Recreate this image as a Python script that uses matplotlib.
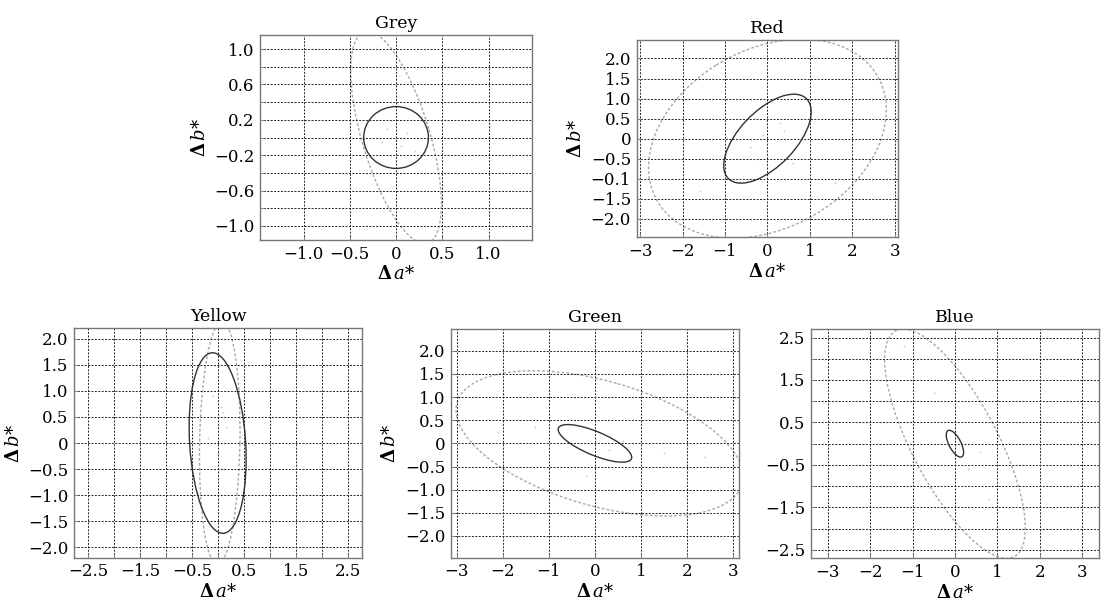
import numpy as np
import matplotlib.pyplot as plt
from matplotlib.patches import Ellipse

plt.rcParams['font.family'] = 'DejaVu Serif'
plt.rcParams['mathtext.fontset'] = 'dejavuserif'

titles = ['Grey', 'Red', 'Yellow', 'Green', 'Blue']

# ellipse centres and second moments (sxx, syy, sxy)
inner_center = [(0.0, 0.0), (0.0, 0.0), (-0.01, 0.0), (0.0, 0.0), (0.0, 0.0)]
inner_moments = [(0.1225, 0.1225, 0.0), (1.06, 1.23, 0.69), (0.30, 3.0, -0.17),
                 (0.64, 0.165, -0.24), (0.042, 0.10, -0.042)]
outer_center = [(0.0, 0.0), (0.0, 0.0), (0.03, 0.0), (0.1, 0.0), (0.0, 0.0)]
outer_moments = [(0.24, 1.44, -0.37), (7.84, 6.15, 2.0), (0.152, 5.43, 0.1),
                 (9.73, 2.46, -2.25), (2.76, 7.3, -3.3)]

# faint sample points
pts_x = [[-0.1, 0.05, 0.12, -0.05, 0.2, -0.15],
         [-0.4, 0.3, -0.2, 0.6, -1.6, 1.6, -0.1, 0.4],
         [-0.1, 0.1, 0.0, 0.15, -0.2, 0.05, 0.1],
         [-2.1, -1.3, 0.3, 1.5, 2.4, -0.2, 0.6],
         [-0.5, -0.3, 0.3, 0.6, 0.8, -1.2]]
pts_y = [[0.1, -0.1, 0.05, 0.2, -0.15, -0.05],
         [-0.2, 0.4, -0.5, -0.6, -1.3, -1.1, 0.1, 0.2],
         [0.9, 0.6, -0.2, 0.3, 0.1, 0.7, -0.5],
         [0.25, 0.35, -0.15, -0.2, -0.3, -0.7, 0.05],
         [1.2, 0.0, -0.6, -0.2, -1.3, 2.3]]

xlims = [(-1.47, 1.47), (-3.08, 3.08), (-2.77, 2.77), (-3.13, 3.13), (-3.4, 3.4)]
ylims = [(-1.16, 1.16), (-2.46, 2.46), (-2.2, 2.2), (-2.47, 2.47), (-2.7, 2.7)]

xticks = [[-1.0, -0.5, 0, 0.5, 1.0],
          [-3, -2, -1, 0, 1, 2, 3],
          [-2.5, -1.5, -0.5, 0.5, 1.5, 2.5],
          [-3, -2, -1, 0, 1, 2, 3],
          [-3, -2, -1, 0, 1, 2, 3]]
xticklabels = [['\u22121.0', '\u22120.5', '0', '0.5', '1.0'],
               ['\u22123', '\u22122', '\u22121', '0', '1', '2', '3'],
               ['\u22122.5', '\u22121.5', '\u22120.5', '0.5', '1.5', '2.5'],
               ['\u22123', '\u22122', '\u22121', '0', '1', '2', '3'],
               ['\u22123', '\u22122', '\u22121', '0', '1', '2', '3']]
xminor = [[], [], [-2, -1, 0, 1, 2], [], []]

yticks = [[1.0, 0.6, 0.2, -0.2, -0.6, -1.0],
          [2.0, 1.5, 1.0, 0.5, 0, -0.5, -1.0, -1.5, -2.0],
          [2.0, 1.5, 1.0, 0.5, 0, -0.5, -1.0, -1.5, -2.0],
          [2.0, 1.5, 1.0, 0.5, 0, -0.5, -1.0, -1.5, -2.0],
          [2.5, 1.5, 0.5, -0.5, -1.5, -2.5]]
yticklabels = [['1.0', '0.6', '0.2', '\u22120.2', '\u22120.6', '\u22121.0'],
               ['2.0', '1.5', '1.0', '0.5', '0', '\u22120.5', '\u22120.1', '\u22121.5', '\u22122.0'],
               ['2.0', '1.5', '1.0', '0.5', '0', '\u22120.5', '\u22121.0', '\u22121.5', '\u22122.0'],
               ['2.0', '1.5', '1.0', '0.5', '0', '\u22120.5', '\u22121.0', '\u22121.5', '\u22122.0'],
               ['2.5', '1.5', '0.5', '\u22120.5', '\u22121.5', '\u22122.5']]
yminor = [[0.8, 0.4, 0, -0.4, -0.8], [], [], [], [2, 1, 0, -1, -2]]

show_ylabel = [True, True, True, True, False]

# axes boxes in figure fractions
boxes = [[0.2347, 0.6072, 0.2455, 0.3355],
         [0.5746, 0.6116, 0.2361, 0.3229],
         [0.0668, 0.0872, 0.2602, 0.3754],
         [0.4070, 0.0872, 0.2599, 0.3743],
         [0.7319, 0.0862, 0.2599, 0.3753]]


def ellipse(c, m, **kw):
    S = np.array([[m[0], m[2]], [m[2], m[1]]])
    vals, vecs = np.linalg.eigh(S)
    ang = np.degrees(np.arctan2(vecs[1, 1], vecs[0, 1]))
    return Ellipse(c, 2 * np.sqrt(vals[1]), 2 * np.sqrt(vals[0]), angle=ang,
                   fill=False, **kw)


fig = plt.figure(figsize=(11.08, 6.11), dpi=100)

for i in range(5):
    ax = fig.add_axes(boxes[i])
    ax.scatter(pts_x[i], pts_y[i], s=2, c='#d0d0d0', lw=0)
    ax.add_patch(ellipse(outer_center[i], outer_moments[i], ec='#a8a8a8',
                         lw=1.0, ls=(0, (2, 1.5))))
    ax.add_patch(ellipse(inner_center[i], inner_moments[i], ec='#333333', lw=1.0))
    ax.set_xlim(xlims[i])
    ax.set_ylim(ylims[i])
    ax.set_xticks(xticks[i])
    ax.set_xticklabels(xticklabels[i])
    ax.set_yticks(yticks[i])
    ax.set_yticklabels(yticklabels[i])
    ax.set_xticks(xminor[i], minor=True)
    ax.set_yticks(yminor[i], minor=True)
    ax.grid(True, which='both', color='#222222', lw=0.7, ls=(0, (2, 1.5)))
    ax.tick_params(which='both', direction='in', length=3, color='#888888',
                   labelsize=12, pad=4)
    for s in ax.spines.values():
        s.set_color('#777777')
        s.set_linewidth(1.0)
    ax.set_title(titles[i], fontsize=12.5, pad=5)
    ax.set_xlabel(r'$\mathbf{\Delta}\,a$*', fontsize=13, labelpad=2)
    if show_ylabel[i]:
        ax.set_ylabel(r'$\mathbf{\Delta}\,b$*', fontsize=13, labelpad=4)

fig.savefig('out.png', dpi=100)
